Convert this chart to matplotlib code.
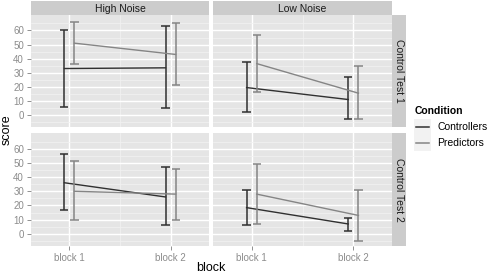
import matplotlib
matplotlib.use("Agg")
import matplotlib.pyplot as plt
import numpy as np

# data
blocks = ["block 1", "block 2"]
noise_levels = ["High Noise", "Low Noise"]
tests = ["Control Test 1", "Control Test 2"]
conditions = ["Controllers", "Predictors"]

# mean, lower, upper for block 1 and block 2
ctrl_t1_high_mean = [33, 33.5]
ctrl_t1_high_lo = [6, 5]
ctrl_t1_high_hi = [60, 63]
pred_t1_high_mean = [51, 43]
pred_t1_high_lo = [36, 21]
pred_t1_high_hi = [66, 65]

ctrl_t1_low_mean = [19.5, 11]
ctrl_t1_low_lo = [2, -3]
ctrl_t1_low_hi = [37.5, 27]
pred_t1_low_mean = [36.5, 15.5]
pred_t1_low_lo = [16, -3]
pred_t1_low_hi = [57, 35]

ctrl_t2_high_mean = [36, 26]
ctrl_t2_high_lo = [17, 6]
ctrl_t2_high_hi = [56, 47]
pred_t2_high_mean = [30, 28]
pred_t2_high_lo = [10, 10]
pred_t2_high_hi = [51, 46]

ctrl_t2_low_mean = [18.5, 7]
ctrl_t2_low_lo = [6, 2]
ctrl_t2_low_hi = [31, 11]
pred_t2_low_mean = [28, 13]
pred_t2_low_lo = [7, -5]
pred_t2_low_hi = [49, 31]

panels = {
    (0, 0): [(ctrl_t1_high_mean, ctrl_t1_high_lo, ctrl_t1_high_hi),
             (pred_t1_high_mean, pred_t1_high_lo, pred_t1_high_hi)],
    (0, 1): [(ctrl_t1_low_mean, ctrl_t1_low_lo, ctrl_t1_low_hi),
             (pred_t1_low_mean, pred_t1_low_lo, pred_t1_low_hi)],
    (1, 0): [(ctrl_t2_high_mean, ctrl_t2_high_lo, ctrl_t2_high_hi),
             (pred_t2_high_mean, pred_t2_high_lo, pred_t2_high_hi)],
    (1, 1): [(ctrl_t2_low_mean, ctrl_t2_low_lo, ctrl_t2_low_hi),
             (pred_t2_low_mean, pred_t2_low_lo, pred_t2_low_hi)],
}

colors = ["#303030", "#858585"]
offsets = [-0.05, 0.05]

plt.rcParams['font.family'] = ['Liberation Sans', 'DejaVu Sans']

W, H = 488, 275
fig = plt.figure(figsize=(W / 100, H / 100), dpi=100)

col_x = [(31, 178), (213, 179)]
row_y = [(15, 112), (133, 113)]


def px_rect(x, y, w, h):
    return [x / W, (H - y - h) / H, w / W, h / H]


def blank(ax, color):
    ax.set_facecolor(color)
    ax.set_xticks([])
    ax.set_yticks([])
    for s in ax.spines.values():
        s.set_visible(False)


for (r, c), series in panels.items():
    x0, w = col_x[c]
    y0, h = row_y[r]
    ax = fig.add_axes(px_rect(x0, y0, w, h))
    ax.set_facecolor("#E5E5E5")
    ax.set_xlim(0.62, 2.38)
    ax.set_ylim(-8.5, 71)
    ax.set_yticks(np.arange(0, 61, 10))
    ax.set_yticks(np.arange(-5, 70, 10), minor=True)
    ax.set_xticks([1, 2])
    ax.set_xticks([1.5], minor=True)
    ax.grid(which="major", color="white", linewidth=1.0)
    ax.grid(which="minor", color="#F2F2F2", linewidth=0.5)
    ax.set_axisbelow(True)
    for s in ax.spines.values():
        s.set_visible(False)
    ax.tick_params(which="minor", length=0)
    ax.tick_params(which="major", length=3, width=0.6, color="#7F7F7F",
                   labelsize=7, labelcolor="#8C8C8C", pad=2)
    if c == 0:
        ax.set_yticklabels([str(v) for v in range(0, 61, 10)])
    else:
        ax.tick_params(axis="y", left=False, labelleft=False)
    if r == 1:
        ax.set_xticklabels(blocks)
    else:
        ax.tick_params(axis="x", bottom=False, labelbottom=False)

    xs = np.arange(1, len(blocks) + 1)
    for k, (mean, lo, hi) in enumerate(series):
        xk = xs + offsets[k]
        ax.plot(xk, mean, color=colors[k], linewidth=1.0, zorder=3)
        ax.vlines(xk, lo, hi, color=colors[k], linewidth=1.1, zorder=3)
        ax.hlines(lo, xk - 0.04, xk + 0.04, color=colors[k], linewidth=1.1, zorder=3)
        ax.hlines(hi, xk - 0.04, xk + 0.04, color=colors[k], linewidth=1.1, zorder=3)

    # strips
    if r == 0:
        sax = fig.add_axes(px_rect(x0, 1, w, 14))
        blank(sax, "#CCCCCC")
        sax.text(0.5, 0.45, noise_levels[c], ha="center", va="center",
                 fontsize=7.5, color="#1A1A1A", transform=sax.transAxes)
    if c == 1:
        sax = fig.add_axes(px_rect(392, y0, 14, h))
        blank(sax, "#CCCCCC")
        sax.text(0.5, 0.5, tests[r], ha="center", va="center", rotation=-90,
                 fontsize=7.5, color="#1A1A1A", transform=sax.transAxes)

fig.text(211 / W, 1 - 268 / H, "block", ha="center", va="center", fontsize=9)
fig.text(7 / W, 1 - 130 / H, "score", ha="center", va="center", rotation=90, fontsize=9)

# legend
fig.text(415 / W, 1 - 111 / H, "Condition", ha="left", va="center",
         fontsize=7.5, fontweight="bold")
for k, name in enumerate(conditions):
    yc = 127 + 16 * k
    kax = fig.add_axes(px_rect(414, yc - 8, 17, 16))
    blank(kax, "#F2F2F2")
    kax.set_xlim(0, 1)
    kax.set_ylim(0, 1)
    kax.plot([0.1, 0.9], [0.5, 0.5], color=colors[k], linewidth=1.1)
    fig.text(437 / W, 1 - yc / H, name, ha="left", va="center", fontsize=7.5)

fig.savefig("out.png", dpi=100)
